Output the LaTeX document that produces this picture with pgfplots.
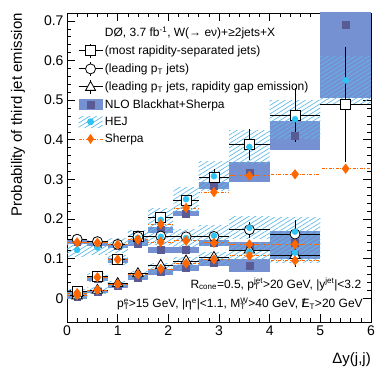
\documentclass[border=0pt]{standalone}
\usepackage{fontspec}
\setmainfont{Liberation Sans}
\usepackage{pgfplots}
\pgfplotsset{compat=1.18}
\usepackage{pgfplotstable}
\usetikzlibrary{patterns.meta}

\definecolor{nlofill}{RGB}{118,145,210}
\definecolor{nlomark}{RGB}{90,90,148}
\definecolor{hejline}{RGB}{95,185,232}
\definecolor{hejmark}{RGB}{45,195,245}
\definecolor{sherpa}{RGB}{255,102,0}

\newcommand\supsub[2]{\rlap{\textsubscript{#2}}\textsuperscript{#1}}

% data: bin centre, half bin width, value, error
\pgfplotstableread{
x    ex    A      eA     B      eB     C      eC
0.2  0.2   0.016  0.008  0.149  0.007  0.006  0.006
0.6  0.2   0.054  0.008  0.143  0.007  0.020  0.006
1.0  0.2   0.099  0.009  0.136  0.007  0.037  0.006
1.4  0.2   0.156  0.010  0.155  0.008  0.062  0.007
1.85 0.25  0.204  0.012  0.157  0.009  0.083  0.008
2.35 0.25  0.246  0.014  0.155  0.010  0.094  0.009
2.9  0.3   0.306  0.020  0.156  0.012  0.103  0.010
3.6  0.4   0.388  0.038  0.173  0.020  0.122  0.014
4.5  0.5   0.462  0.068  0.162  0.035  0.108  0.030
5.5  0.5   0.490  0.145  nan    nan    nan    nan
}\data

% theory central values: NLO (n), HEJ (h), Sherpa (s)
\pgfplotstableread{
x    ex    nA     nB     nC     hA     hB     hC     sA     sB     sC
0.2  0.2   0.011  0.142  0.004  0.013  0.122  0.006  0.013  0.141  0.008
0.6  0.2   0.050  0.138  0.017  0.052  0.128  0.019  0.053  0.140  0.021
1.0  0.2   0.095  0.132  0.032  0.097  0.134  0.035  0.098  0.135  0.036
1.4  0.2   0.140  0.138  0.052  0.152  0.152  0.058  0.148  0.148  0.060
1.85 0.25  0.172  0.122  0.066  0.198  0.155  0.076  0.187  0.142  0.074
2.35 0.25  0.214  0.122  0.076  0.250  0.152  0.088  0.228  0.145  0.088
2.9  0.3   0.284  0.140  0.090  0.308  0.158  0.100  0.268  0.140  0.098
3.6  0.4   0.318  0.130  0.082  0.382  0.178  0.118  0.309  0.136  0.107
4.5  0.5   0.410  0.140  0.110  0.452  0.168  0.115  0.313  0.136  0.095
5.5  0.5   0.690  nan    nan    0.550  nan    nan    0.327  nan    nan
}\theory

\newcommand\nlobox[4]{\addplot[draw=none, fill=nlofill, forget plot] coordinates {(#1,#3) (#2,#3) (#2,#4) (#1,#4)};}
\newcommand\hejbox[4]{\addplot[draw=none, pattern={Lines[angle=32, distance=3.6pt, line width=0.7pt]}, pattern color=hejline, forget plot] coordinates {(#1,#3) (#2,#3) (#2,#4) (#1,#4)};}

\pgfplotsset{
  dstyle/.style={black, line width=0.8pt, only marks, mark options={fill=white, solid}, forget plot,
    error bars/x dir=both, error bars/x explicit, error bars/y dir=both, error bars/y explicit,
    error bars/error mark=none, error bars/error bar style={line width=0.8pt, black}},
  sstyle/.style={only marks, mark=diamond*, mark size=4.8pt, color=sherpa, forget plot,
    error bars/x dir=both, error bars/x explicit, error bars/error mark=none,
    error bars/error bar style={sherpa, line width=0.8pt, dash pattern=on 3pt off 1.5pt on 1pt off 1.5pt}},
}

\begin{document}
\begin{tikzpicture}
\begin{axis}[
  scale only axis, width=304pt, height=309pt,
  xmin=0, xmax=6, ymin=-0.06, ymax=0.72,
  xtick={0,1,2,3,4,5,6}, ytick={0,0.1,0.2,0.3,0.4,0.5,0.6,0.7},
  minor x tick num=4, minor y tick num=4,
  tick align=inside, tick pos=both,
  major tick length=8pt, minor tick length=4pt,
  every tick/.style={black, line width=0.6pt},
  axis line style={line width=0.7pt},
  tick label style={font=\fontsize{14}{14}\selectfont},
  /pgf/number format/assume math mode=true,
  yticklabel style={/pgf/number format/fixed, /pgf/number format/precision=1},
  xlabel={Δy(j,j)},
  xlabel style={at={(axis description cs:1,0)}, anchor=north east, yshift=-30pt, inner sep=0pt, font=\fontsize{15}{15}\selectfont},
  ylabel={Probability of third jet emission},
  ylabel style={at={(axis description cs:-0.161,1)}, anchor=east, inner sep=0pt, font=\fontsize{15}{15}\selectfont},
  legend cell align=left,
  legend style={at={(axis description cs:0.036,0.962)}, anchor=north west, draw=none, fill=none, inner sep=0pt,
    font=\fontsize{12}{12}\selectfont, row sep=3.2pt, nodes={inner sep=2pt}},
]
\addlegendimage{empty legend}
\addlegendentry{DØ, 3.7 fb\textsuperscript{-1}, W(→ eν)+≥2jets+X}
\addlegendimage{legend image code/.code={
  \draw[black, line width=0.8pt] (0pt,0pt) -- (24pt,0pt) (12pt,-7pt) -- (12pt,7pt);
  \draw[black, line width=0.8pt, fill=white] (7pt,-5pt) rectangle (17pt,5pt);}}
\addlegendentry{(most rapidity-separated jets)}
\addlegendimage{legend image code/.code={
  \draw[black, line width=0.8pt] (0pt,0pt) -- (24pt,0pt) (12pt,-7pt) -- (12pt,7pt);
  \draw[black, line width=0.8pt, fill=white] (12pt,0pt) circle (5pt);}}
\addlegendentry{(leading p\textsubscript{T} jets)}
\addlegendimage{legend image code/.code={
  \draw[black, line width=0.8pt] (0pt,0pt) -- (24pt,0pt) (12pt,-7pt) -- (12pt,7pt);
  \draw[black, line width=0.8pt, fill=white] (12pt,5.5pt) -- (17pt,-3.5pt) -- (7pt,-3.5pt) -- cycle;}}
\addlegendentry{(leading p\textsubscript{T} jets, rapidity gap emission)}
\addlegendimage{legend image code/.code={
  \fill[nlofill, draw=none] (0pt,-5.5pt) rectangle (24pt,5.5pt);
  \fill[nlomark, draw=none] (8pt,-4pt) rectangle (16pt,4pt);}}
\addlegendentry{NLO Blackhat+Sherpa}
\addlegendimage{legend image code/.code={
  \path[draw=none, pattern={Lines[angle=32, distance=3.6pt, line width=0.7pt]}, pattern color=hejline] (0pt,-5.5pt) rectangle (24pt,5.5pt);
  \path[draw=none, fill=hejmark] (12pt,0pt) circle (3.5pt);}}
\addlegendentry{HEJ}
\addlegendimage{legend image code/.code={
  \draw[sherpa, line width=0.8pt, dash pattern=on 3pt off 1.5pt on 1pt off 1.5pt] (0pt,0pt) -- (24pt,0pt);
  \fill[sherpa, draw=none] (12pt,5pt) -- (15.5pt,0pt) -- (12pt,-5pt) -- (8.5pt,0pt) -- cycle;}}
\addlegendentry{Sherpa}

% NLO Blackhat+Sherpa uncertainty boxes
\nlobox{0.0}{0.4}{0.005}{0.017}
\nlobox{0.4}{0.8}{0.044}{0.056}
\nlobox{0.8}{1.2}{0.088}{0.102}
\nlobox{1.2}{1.6}{0.133}{0.147}
\nlobox{1.6}{2.1}{0.164}{0.180}
\nlobox{2.1}{2.6}{0.207}{0.221}
\nlobox{2.6}{3.2}{0.275}{0.293}
\nlobox{3.2}{4.0}{0.293}{0.343}
\nlobox{4.0}{5.0}{0.373}{0.447}
\nlobox{5.0}{6.0}{0.505}{0.875}
\nlobox{0.0}{0.4}{0.136}{0.148}
\nlobox{0.4}{0.8}{0.132}{0.144}
\nlobox{0.8}{1.2}{0.126}{0.138}
\nlobox{1.2}{1.6}{0.132}{0.144}
\nlobox{1.6}{2.1}{0.115}{0.129}
\nlobox{2.1}{2.6}{0.114}{0.130}
\nlobox{2.6}{3.2}{0.132}{0.148}
\nlobox{3.2}{4.0}{0.118}{0.142}
\nlobox{4.0}{5.0}{0.110}{0.170}
\nlobox{0.0}{0.4}{-0.001}{0.009}
\nlobox{0.4}{0.8}{0.012}{0.022}
\nlobox{0.8}{1.2}{0.027}{0.037}
\nlobox{1.2}{1.6}{0.046}{0.058}
\nlobox{1.6}{2.1}{0.059}{0.073}
\nlobox{2.1}{2.6}{0.068}{0.084}
\nlobox{2.6}{3.2}{0.081}{0.099}
\nlobox{3.2}{4.0}{0.065}{0.099}
\nlobox{4.0}{5.0}{0.098}{0.122}

% HEJ uncertainty boxes
\hejbox{0.0}{0.4}{0.005}{0.021}
\hejbox{0.4}{0.8}{0.042}{0.062}
\hejbox{0.8}{1.2}{0.085}{0.109}
\hejbox{1.2}{1.6}{0.136}{0.168}
\hejbox{1.6}{2.1}{0.170}{0.226}
\hejbox{2.1}{2.6}{0.220}{0.280}
\hejbox{2.6}{3.2}{0.271}{0.345}
\hejbox{3.2}{4.0}{0.340}{0.424}
\hejbox{4.0}{5.0}{0.404}{0.500}
\hejbox{5.0}{6.0}{0.490}{0.610}
\hejbox{0.0}{0.4}{0.106}{0.138}
\hejbox{0.4}{0.8}{0.111}{0.145}
\hejbox{0.8}{1.2}{0.116}{0.152}
\hejbox{1.2}{1.6}{0.134}{0.170}
\hejbox{1.6}{2.1}{0.135}{0.175}
\hejbox{2.1}{2.6}{0.130}{0.174}
\hejbox{2.6}{3.2}{0.133}{0.183}
\hejbox{3.2}{4.0}{0.150}{0.206}
\hejbox{4.0}{5.0}{0.133}{0.203}
\hejbox{0.0}{0.4}{0.000}{0.012}
\hejbox{0.4}{0.8}{0.012}{0.026}
\hejbox{0.8}{1.2}{0.027}{0.043}
\hejbox{1.2}{1.6}{0.048}{0.068}
\hejbox{1.6}{2.1}{0.064}{0.088}
\hejbox{2.1}{2.6}{0.074}{0.102}
\hejbox{2.6}{3.2}{0.085}{0.115}
\hejbox{3.2}{4.0}{0.098}{0.138}
\hejbox{4.0}{5.0}{0.090}{0.140}

% NLO central values
\addplot[only marks, mark=square*, mark size=3.4pt, color=nlomark, forget plot] table[x=x, y=nA]{\theory};
\addplot[only marks, mark=square*, mark size=3.4pt, color=nlomark, forget plot] table[x=x, y=nB]{\theory};
\addplot[only marks, mark=square*, mark size=3.4pt, color=nlomark, forget plot] table[x=x, y=nC]{\theory};

% data
\addplot[dstyle, mark=square*, mark size=5pt] table[x=x, y=A, x error=ex, y error=eA]{\data};
\addplot[dstyle, mark=*, mark size=5pt] table[x=x, y=B, x error=ex, y error=eB]{\data};
\addplot[dstyle, mark=triangle*, mark size=6pt] table[x=x, y=C, x error=ex, y error=eC]{\data};

% HEJ central values
\addplot[only marks, mark=*, mark size=3pt, color=hejmark, forget plot] table[x=x, y=hA]{\theory};
\addplot[only marks, mark=*, mark size=3pt, color=hejmark, forget plot] table[x=x, y=hB]{\theory};
\addplot[only marks, mark=*, mark size=3pt, color=hejmark, forget plot] table[x=x, y=hC]{\theory};

% Sherpa
\addplot[sstyle] table[x=x, y=sA, x error=ex]{\theory};
\addplot[sstyle] table[x=x, y=sB, x error=ex]{\theory};
\addplot[sstyle] table[x=x, y=sC, x error=ex]{\theory};

\node[anchor=east, inner sep=0pt, font=\fontsize{12}{12}\selectfont] at (axis cs:5.81,0.035)
  {R\textsubscript{cone}=0.5, p\supsub{jet}{T}>20 GeV, |y\textsuperscript{jet}|<3.2};
\node[anchor=east, inner sep=0pt, font=\fontsize{12}{12}\selectfont] at (axis cs:5.84,-0.015)
  {p\supsub{e}{T}>15 GeV, |η\textsuperscript{e}|<1.1, M\supsub{W}{T}>40 GeV, \rlap{\hspace{0.5pt}/}E\textsubscript{T}>20 GeV};
\end{axis}
\pgfresetboundingbox
\path[use as bounding box] ([xshift=-67pt,yshift=-54pt]current axis.south west) rectangle ([xshift=11pt,yshift=13pt]current axis.north east);
\end{tikzpicture}
\end{document}
